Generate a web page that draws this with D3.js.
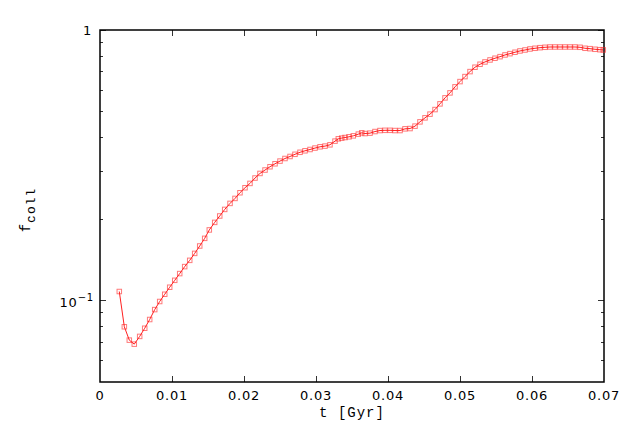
<!DOCTYPE html>
<html>
<head>
<meta charset="utf-8">
<script src="https://cdn.jsdelivr.net/npm/d3@7"></script>
<style>
  body { margin: 0; background: #fff; }
  svg { display: block; }
  .tick-label { font-family: "DejaVu Sans", sans-serif; font-size: 13px; letter-spacing: 0.8px; fill: #000; }
  .axis-title { font-family: "Liberation Mono", "DejaVu Sans Mono", monospace; font-size: 14px; letter-spacing: 1px; fill: #000; }
</style>
</head>
<body>
<script>
const width = 638,
  height = 430;

// collapsed fraction vs time
const tGyr = [
  0.00268, 0.00338, 0.00407, 0.00476, 0.00551, 0.00621, 0.00690, 0.00760, 0.00829, 0.00899,
  0.00968, 0.01038, 0.01107, 0.01176, 0.01246, 0.01315, 0.01385, 0.01454, 0.01518, 0.01593,
  0.01663, 0.01732, 0.01806, 0.01875, 0.01944, 0.02014, 0.02083, 0.02153, 0.02222, 0.02292,
  0.02361, 0.02431, 0.02500, 0.02569, 0.02639, 0.02708, 0.02778, 0.02847, 0.02917, 0.02986,
  0.03056, 0.03125, 0.03194, 0.03264, 0.03310, 0.03357, 0.03403, 0.03458, 0.03518, 0.03588,
  0.03635, 0.03681, 0.03750, 0.03819, 0.03889, 0.03958, 0.04028, 0.04097, 0.04167, 0.04236,
  0.04306, 0.04375, 0.04444, 0.04514, 0.04583, 0.04653, 0.04722, 0.04792, 0.04861, 0.04931,
  0.05000, 0.05069, 0.05139, 0.05208, 0.05278, 0.05347, 0.05417, 0.05486, 0.05556, 0.05625,
  0.05694, 0.05764, 0.05833, 0.05903, 0.05972, 0.06042, 0.06111, 0.06181, 0.06250, 0.06319,
  0.06389, 0.06458, 0.06528, 0.06597, 0.06667, 0.06736, 0.06806, 0.06875, 0.06944, 0.06990
];
const fColl = [
  0.1080, 0.0800, 0.0714, 0.0690, 0.0737, 0.0790, 0.0851, 0.0926, 0.0992, 0.1055,
  0.1120, 0.1188, 0.1258, 0.1335, 0.1408, 0.1494, 0.1591, 0.1698, 0.1824, 0.1945,
  0.2054, 0.2172, 0.2286, 0.2385, 0.2503, 0.2612, 0.2710, 0.2837, 0.2950, 0.3037,
  0.3123, 0.3203, 0.3277, 0.3350, 0.3408, 0.3472, 0.3532, 0.3577, 0.3617, 0.3661,
  0.3701, 0.3723, 0.3764, 0.3884, 0.3961, 0.3985, 0.4005, 0.4029, 0.4063, 0.4122,
  0.4168, 0.4143, 0.4157, 0.4214, 0.4250, 0.4258, 0.4258, 0.4250, 0.4250, 0.4312,
  0.4323, 0.4412, 0.4576, 0.4735, 0.4886, 0.5081, 0.5333, 0.5612, 0.5855, 0.6164,
  0.6447, 0.6727, 0.7019, 0.7284, 0.7471, 0.7619, 0.7750, 0.7863, 0.7970, 0.8087,
  0.8177, 0.8275, 0.8367, 0.8436, 0.8509, 0.8560, 0.8603, 0.8632, 0.8654, 0.8654,
  0.8654, 0.8654, 0.8654, 0.8654, 0.8632, 0.8560, 0.8531, 0.8487, 0.8457, 0.8440
];

const xTicks = [0, 0.01, 0.02, 0.03, 0.04, 0.05, 0.06, 0.07];
const xTickLabels = ['0', '0.01', '0.02', '0.03', '0.04', '0.05', '0.06', '0.07'];
const yMajor = [0.1, 1];
const yMinor = [0.06, 0.07, 0.08, 0.09, 0.2, 0.3, 0.4, 0.5, 0.6, 0.7, 0.8, 0.9];

const margin = { top: 30, right: 34, bottom: 48, left: 100 };

const x = d3.scaleLinear()
  .domain([0, 0.07])
  .range([margin.left, width - margin.right]);

const y = d3.scaleLog()
  .domain([0.05, 1])
  .range([height - margin.bottom, margin.top]);

const svg = d3.select('body').append('svg')
  .attr('width', width)
  .attr('height', height);

const x0 = x.range()[0], x1 = x.range()[1],
  yb = y.range()[0], yt = y.range()[1];

// tick marks, drawn inward on all four sides (gnuplot style)
const ticks = svg.append('g')
  .attr('stroke', '#333')
  .attr('stroke-width', 1)
  .attr('shape-rendering', 'crispEdges');

xTicks.slice(1, -1).forEach(t => {
  ticks.append('line').attr('x1', x(t)).attr('x2', x(t)).attr('y1', yb).attr('y2', yb - 6);
  ticks.append('line').attr('x1', x(t)).attr('x2', x(t)).attr('y1', yt).attr('y2', yt + 6);
});
yMajor.forEach(v => {
  ticks.append('line').attr('x1', x0).attr('x2', x0 + 6).attr('y1', y(v)).attr('y2', y(v));
  ticks.append('line').attr('x1', x1).attr('x2', x1 - 6).attr('y1', y(v)).attr('y2', y(v));
});
yMinor.forEach(v => {
  ticks.append('line').attr('x1', x0).attr('x2', x0 + 3).attr('y1', y(v)).attr('y2', y(v));
  ticks.append('line').attr('x1', x1).attr('x2', x1 - 3).attr('y1', y(v)).attr('y2', y(v));
});

// frame
svg.append('rect')
  .attr('x', x0).attr('y', yt)
  .attr('width', x1 - x0).attr('height', yb - yt)
  .attr('fill', 'none')
  .attr('stroke', '#000')
  .attr('stroke-width', 1.5);

// x tick labels
svg.append('g').selectAll('text')
  .data(xTicks)
  .join('text')
  .attr('class', 'tick-label')
  .attr('x', d => x(d))
  .attr('y', yb + 18)
  .attr('text-anchor', 'middle')
  .text((d, i) => xTickLabels[i]);

// y tick labels
svg.append('text')
  .attr('class', 'tick-label')
  .attr('x', x0 - 8)
  .attr('y', y(1) + 5)
  .attr('text-anchor', 'end')
  .text('1');

const tenth = svg.append('text')
  .attr('class', 'tick-label')
  .attr('x', x0 - 6)
  .attr('y', y(0.1) + 6)
  .attr('text-anchor', 'end');
tenth.append('tspan').text('10');
tenth.append('tspan').attr('dy', -6).attr('font-size', 10).text('\u22121');

// axis titles
svg.append('text')
  .attr('class', 'axis-title')
  .attr('x', (x0 + x1) / 2)
  .attr('y', yb + 35)
  .attr('text-anchor', 'middle')
  .text('t [Gyr]');

const ylab = svg.append('text')
  .attr('class', 'axis-title')
  .attr('transform', 'translate(30, 210) rotate(-90)')
  .attr('text-anchor', 'middle');
ylab.append('tspan').text('f');
ylab.append('tspan').attr('dy', 5).attr('font-size', 13).text('coll');

// data
const data = tGyr.map((t, i) => ({ t, f: fColl[i] }));
const red = '#ff2020';

svg.append('path')
  .datum(data)
  .attr('fill', 'none')
  .attr('stroke', red)
  .attr('stroke-width', 1)
  .attr('d', d3.line().x(d => x(d.t)).y(d => y(d.f)));

svg.append('g').selectAll('rect')
  .data(data)
  .join('rect')
  .attr('x', d => x(d.t) - 2.25)
  .attr('y', d => y(d.f) - 2.25)
  .attr('width', 4.5)
  .attr('height', 4.5)
  .attr('fill', 'none')
  .attr('stroke', red)
  .attr('stroke-opacity', 0.6)
  .attr('stroke-width', 1);
</script>
</body>
</html>
